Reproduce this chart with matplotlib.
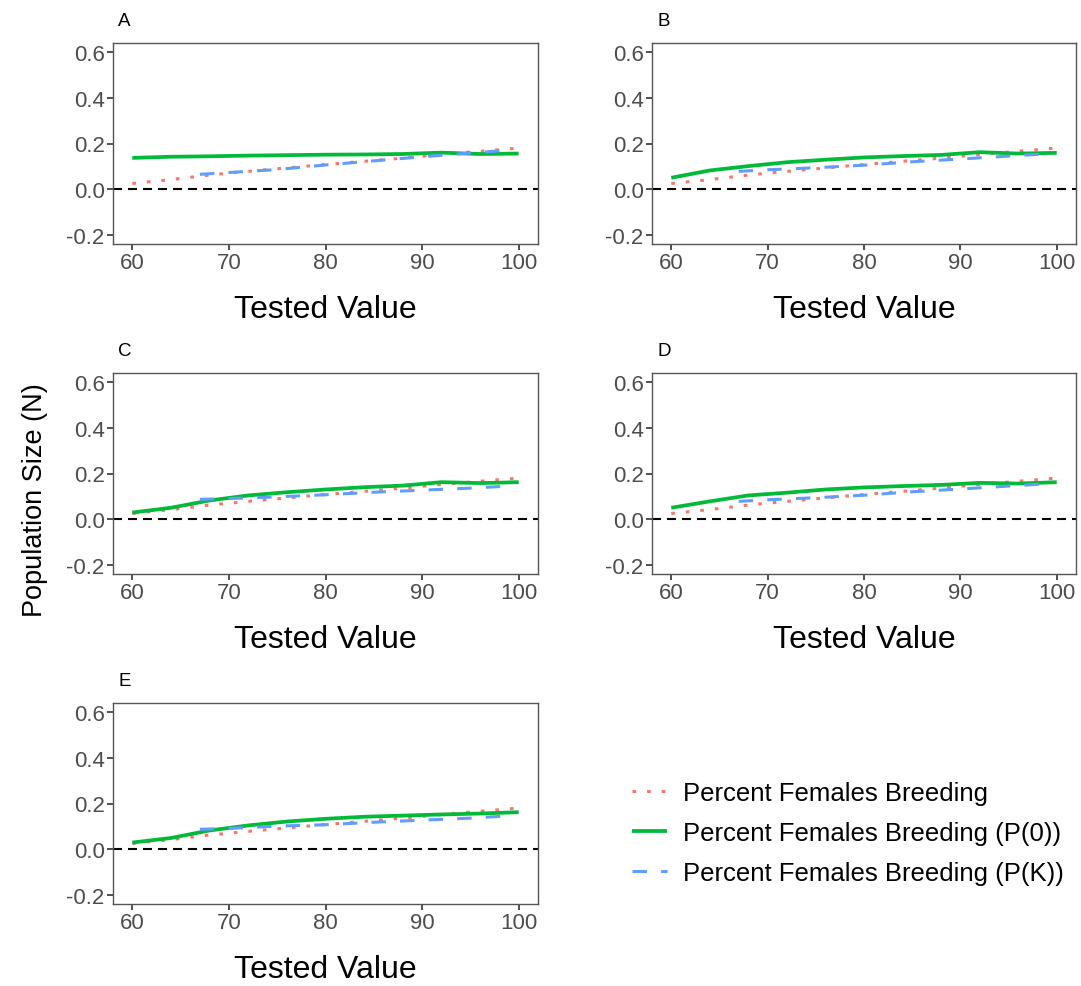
import matplotlib.pyplot as plt
from matplotlib.lines import Line2D

plt.rcParams['font.family'] = ['Liberation Sans', 'DejaVu Sans']
plt.rcParams['lines.scale_dashes'] = False

# tested values for each series
x_main = [60, 64, 68, 72, 76, 80, 84, 88, 92, 96, 100]
x_pk = [67, 70, 75, 80, 85, 90, 95, 99]

panels = ["A", "B", "C", "D", "E"]

# Percent Females Breeding (same across panels)
pfb = [0.025, 0.042, 0.062, 0.078, 0.093, 0.108, 0.122, 0.136, 0.152, 0.166, 0.180]

# Percent Females Breeding (P(0))
p0_A = [0.137, 0.142, 0.144, 0.147, 0.149, 0.151, 0.152, 0.154, 0.160, 0.154, 0.156]
p0_B = [0.050, 0.082, 0.101, 0.118, 0.129, 0.139, 0.145, 0.150, 0.162, 0.156, 0.159]
p0_C = [0.029, 0.050, 0.082, 0.104, 0.118, 0.130, 0.140, 0.147, 0.162, 0.158, 0.162]
p0_D = [0.050, 0.078, 0.104, 0.116, 0.130, 0.139, 0.145, 0.150, 0.159, 0.156, 0.162]
p0_E = [0.029, 0.049, 0.082, 0.104, 0.121, 0.133, 0.142, 0.147, 0.152, 0.156, 0.162]

# Percent Females Breeding (P(K))
pk_A = [0.065, 0.073, 0.086, 0.106, 0.124, 0.142, 0.158, 0.171]
pk_B = [0.078, 0.085, 0.094, 0.105, 0.120, 0.132, 0.145, 0.155]
pk_C = [0.087, 0.090, 0.098, 0.107, 0.118, 0.127, 0.136, 0.145]
pk_D = [0.078, 0.085, 0.094, 0.105, 0.120, 0.132, 0.145, 0.155]
pk_E = [0.087, 0.091, 0.101, 0.107, 0.118, 0.127, 0.136, 0.146]

p0_all = [p0_A, p0_B, p0_C, p0_D, p0_E]
pk_all = [pk_A, pk_B, pk_C, pk_D, pk_E]

labels = ["Percent Females Breeding",
          "Percent Females Breeding (P(0))",
          "Percent Females Breeding (P(K))"]
colors = ["#F8766D", "#00BA38", "#619CFF"]

W, H = 1081, 987
fig = plt.figure(figsize=(W / 100, H / 100), dpi=100)

# panel boxes in pixels: left, top, right, bottom
boxes = [(113, 44, 538, 245), (652, 44, 1076, 245),
         (113, 374, 538, 575), (652, 374, 1076, 575),
         (113, 704, 538, 905)]

style_red = dict(color=colors[0], lw=2.2, dashes=(2.6, 7.9), dash_capstyle='butt')
style_green = dict(color=colors[1], lw=2.7, solid_capstyle='butt')
style_blue = dict(color=colors[2], lw=2.2, dashes=(10.4, 10.2), dash_capstyle='butt')

for i, name in enumerate(panels):
    l, t, r, b = boxes[i]
    ax = fig.add_axes([l / W, 1 - b / H, (r - l) / W, (b - t) / H])
    ax.axhline(0, color='black', lw=1.5, dashes=(6.5, 4.3))
    ax.plot(x_main, pfb, **style_red)
    ax.plot(x_main, p0_all[i], **style_green)
    ax.plot(x_pk, pk_all[i], **style_blue)

    ax.set_xlim(58, 102)
    ax.set_ylim(-0.24, 0.64)
    ax.set_xticks([60, 70, 80, 90, 100])
    ax.set_yticks([-0.2, 0.0, 0.2, 0.4, 0.6])
    ax.set_yticklabels(["-0.2", "0.0", "0.2", "0.4", "0.6"])
    for s in ax.spines.values():
        s.set_color('#555555')
        s.set_linewidth(1.0)
    ax.tick_params(length=4, width=1.2, color='#333333', labelcolor='#4D4D4D',
                   labelsize=16, pad=2)
    ax.set_xlabel("Tested Value", fontsize=23, labelpad=15)
    ax.text(0.012, 1.07, name, transform=ax.transAxes, fontsize=13.5,
            ha='left', va='bottom')

fig.text(35 / W, 1 - 500 / H, "Population Size (N)", rotation=90,
         fontsize=19.5, ha='center', va='center')

handles = [Line2D([], [], **style_red),
           Line2D([], [], **style_green),
           Line2D([], [], **style_blue)]
fig.legend(handles, labels, loc='center left',
           bbox_to_anchor=(632 / W, 1 - 834 / H), frameon=False,
           fontsize=18.5, handlelength=1.35, handletextpad=0.65,
           labelspacing=0.62, borderpad=0, borderaxespad=0)

fig.savefig("out.png", dpi=100)
